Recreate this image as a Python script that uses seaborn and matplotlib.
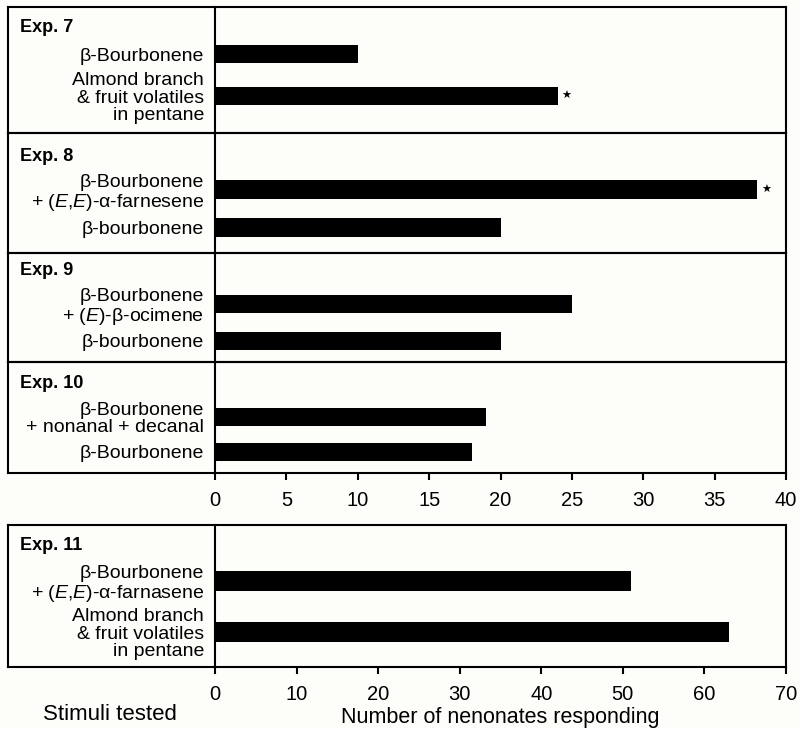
import numpy as np
import pandas as pd
import seaborn as sns
import matplotlib
import matplotlib.pyplot as plt

sns.set_theme(style='white')
plt.rcParams['font.family'] = ['Liberation Sans', 'DejaVu Sans']
plt.rcParams['mathtext.fontset'] = 'custom'
plt.rcParams['mathtext.rm'] = 'Liberation Sans'
plt.rcParams['mathtext.it'] = 'Liberation Sans:italic'
plt.rcParams['axes.unicode_minus'] = False
# 全部文字用黑色
for k in ['text.color', 'axes.labelcolor', 'xtick.color', 'ytick.color']:
    plt.rcParams[k] = 'black'

# 数据
exp_names = ['Exp. 7', 'Exp. 8', 'Exp. 9', 'Exp. 10', 'Exp. 11']
exp7_labels = ['β-Bourbonene', 'Almond branch\n& fruit volatiles\nin pentane']
exp7_values = [10, 24]
exp7_sig = [False, True]
exp8_labels = ['β-Bourbonene\n+ ($\\mathit{E}$,$\\mathit{E}$)-α-farnesene', 'β-bourbonene']
exp8_values = [38, 20]
exp8_sig = [True, False]
exp9_labels = ['β-Bourbonene\n+ ($\\mathit{E}$)-β-ocimene', 'β-bourbonene']
exp9_values = [25, 20]
exp9_sig = [False, False]
exp10_labels = ['β-Bourbonene\n+ nonanal + decanal', 'β-Bourbonene']
exp10_values = [19, 18]
exp10_sig = [False, False]
exp11_labels = ['β-Bourbonene\n+ ($\\mathit{E}$,$\\mathit{E}$)-α-farnasene', 'Almond branch\n& fruit volatiles\nin pentane']
exp11_values = [51, 63]
exp11_sig = [False, False]

top_ticks = [0, 5, 10, 15, 20, 25, 30, 35, 40]
bottom_ticks = [0, 10, 20, 30, 40, 50, 60, 70]

panels = [
    (exp7_labels, exp7_values, exp7_sig),
    (exp8_labels, exp8_values, exp8_sig),
    (exp9_labels, exp9_values, exp9_sig),
    (exp10_labels, exp10_values, exp10_sig),
    (exp11_labels, exp11_values, exp11_sig),
]

# 版面 (像素)
W, H = 800, 729
frame_x0, bar_x0, x1 = 8, 215, 786
rows = [(7, 133), (133, 253), (253, 362), (362, 473), (525, 667)]
ylims = [(1.88, -1.12), (1.66, -1.5), (1.57, -1.38), (1.6, -1.57), (1.69, -1.1)]
bar_w = [0.45, 0.5, 0.51, 0.54, 0.39]
exp_dy = [20, 24, 18, 21, 20]
lw = 1.5
fs = 14

fig = plt.figure(figsize=(W / 100, H / 100), dpi=100)
fig.patch.set_facecolor('#fdfdf9')

for i, (labels, values, sig) in enumerate(panels):
    top, bot = rows[i]
    # 外框
    fr = fig.add_axes([frame_x0 / W, 1 - bot / H, (x1 - frame_x0) / W, (bot - top) / H])
    fr.set_facecolor('none')
    fr.set_xticks([])
    fr.set_yticks([])
    for s in fr.spines.values():
        s.set_linewidth(lw)
        s.set_color('black')
    fr.annotate(exp_names[i], xy=(0, 1), xycoords='axes fraction', xytext=(12, -exp_dy[i]),
                textcoords='offset pixels', ha='left', va='center', fontsize=13, fontweight='bold')

    ax = fig.add_axes([bar_x0 / W, 1 - bot / H, (x1 - bar_x0) / W, (bot - top) / H])
    ax.set_facecolor('none')
    df = pd.DataFrame({'stim': labels, 'n': values})
    sns.barplot(data=df, x='n', y='stim', orient='h', color='black', saturation=1,
                width=bar_w[i], linewidth=0, ax=ax)
    ax.set_ylim(*ylims[i])
    ax.set_ylabel('')
    ax.set_xlabel('')
    for s in ['top', 'right', 'bottom']:
        ax.spines[s].set_visible(False)
    ax.spines['left'].set_linewidth(lw)
    ax.spines['left'].set_color('black')
    ax.tick_params(axis='y', length=0, pad=8, labelsize=fs)
    for t in ax.get_yticklabels():
        t.set_linespacing(1.04)
        t.set_multialignment('right')
    for j, v in enumerate(values):
        if sig[j]:
            ax.annotate('★', xy=(v, j), xytext=(9, 0), textcoords='offset pixels',
                        ha='center', va='center', fontsize=8, family='DejaVu Sans')
    if i < 3:
        ax.set_xlim(0, 40)
        ax.set_xticks([])
    else:
        ticks = top_ticks if i == 3 else bottom_ticks
        ax.set_xlim(ticks[0], ticks[-1])
        ax.set_xticks(ticks)
        ax.tick_params(axis='x', direction='out', length=5, width=lw, pad=8, labelsize=14.5,
                       bottom=True, color='black')

ax.set_xlabel('Number of nenonates responding', fontsize=15.5, labelpad=2)
fig.text(110 / W, 1 - 714 / H, 'Stimuli tested', ha='center', va='center', fontsize=16)

plt.savefig('out.png', dpi=100, facecolor=fig.get_facecolor())
